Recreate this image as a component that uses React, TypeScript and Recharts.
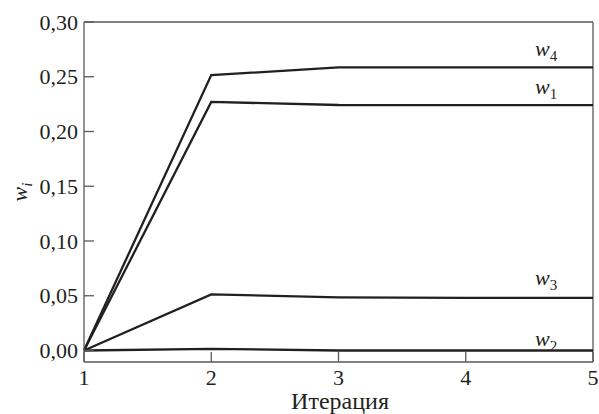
import React from 'react';
import { LineChart, Line, XAxis, YAxis, ReferenceLine } from 'recharts';

const iterations = [1, 2, 3, 4, 5];
const w1 = [0, 0.227, 0.2242, 0.224, 0.224];
const w2 = [0, 0.0015, 0, 0, 0];
const w3 = [0, 0.0513, 0.0485, 0.048, 0.048];
const w4 = [0, 0.2515, 0.2585, 0.2585, 0.2585];
const yTicks = [0, 0.05, 0.1, 0.15, 0.2, 0.25, 0.3];

const data = iterations.map((it, i) => ({ it, w1: w1[i], w2: w2[i], w3: w3[i], w4: w4[i] }));

const FONT = "Liberation Serif, serif";
const INK = '#231f20';
const AXIS = '#58595b';
const txt = { fontFamily: FONT, fontSize: 22, fill: INK };

const YTick = (props: any) => {
  const { x, y, payload } = props;
  return (
    <g>
      <line x1={x + 6} x2={x + 16} y1={y} y2={y} stroke={AXIS} strokeWidth={1.3} />
      <text x={x} y={y} textAnchor="end" dominantBaseline="central" style={txt}>
        {payload.value.toFixed(2).replace('.', ',')}
      </text>
    </g>
  );
};

const XTick = (props: any) => {
  const { x, y, payload } = props;
  return (
    <g>
      <line x1={x} x2={x} y1={y} y2={y - 10} stroke={AXIS} strokeWidth={1.3} />
      <text x={x} y={y + 23} textAnchor="middle" style={txt}>
        {payload.value}
      </text>
    </g>
  );
};

// w_k label just above the flat end of each curve
const seriesLabel = (sub: string, dy: number) => (props: any) => {
  if (props.index !== iterations.length - 1) return null;
  return (
    <text x={props.x - 58} y={props.y - dy} style={txt}>
      <tspan style={{ fontStyle: 'italic' }}>w</tspan>
      <tspan dy={5} style={{ fontSize: 15 }}>{sub}</tspan>
    </text>
  );
};

const YLabel = () => (
  <text transform="translate(27,192) rotate(-90)" textAnchor="middle" style={txt}>
    <tspan style={{ fontStyle: 'italic' }}>w</tspan>
    <tspan dy={5} style={{ fontSize: 15, fontStyle: 'italic' }}>i</tspan>
  </text>
);

const XLabel = () => (
  <text x={340} y={409} textAnchor="middle" style={{ ...txt, fontSize: 24 }}>
    Итерация
  </text>
);

export default function App() {
  return (
    <div style={{ position: 'absolute', left: 0, top: 0, background: '#fff' }}>
      <LineChart width={599} height={414} data={data} margin={{ top: 22, right: 6, bottom: 0, left: 0 }}>
        <XAxis
          dataKey="it"
          type="number"
          domain={[1, 5]}
          ticks={iterations}
          height={52}
          stroke={AXIS}
          strokeWidth={1.3}
          tickLine={false}
          tickSize={0}
          tickMargin={0}
          tick={<XTick />}
          label={<XLabel />}
        />
        <YAxis
          type="number"
          domain={[-0.0105, 0.3]}
          ticks={yTicks}
          width={84}
          stroke={AXIS}
          strokeWidth={1.3}
          tickLine={false}
          tickSize={0}
          tickMargin={6}
          tick={<YTick />}
          label={<YLabel />}
        />
        <ReferenceLine y={0.3} stroke={AXIS} strokeWidth={1.3} />
        <ReferenceLine x={5} stroke={AXIS} strokeWidth={1.3} />
        <Line type="linear" dataKey="w4" stroke={INK} strokeWidth={2.3} dot={false} isAnimationActive={false} label={seriesLabel('4', 11)} />
        <Line type="linear" dataKey="w1" stroke={INK} strokeWidth={2.3} dot={false} isAnimationActive={false} label={seriesLabel('1', 11)} />
        <Line type="linear" dataKey="w3" stroke={INK} strokeWidth={2.3} dot={false} isAnimationActive={false} label={seriesLabel('3', 13)} />
        <Line type="linear" dataKey="w2" stroke={INK} strokeWidth={2.3} dot={false} isAnimationActive={false} label={seriesLabel('2', 5)} />
      </LineChart>
    </div>
  );
}
